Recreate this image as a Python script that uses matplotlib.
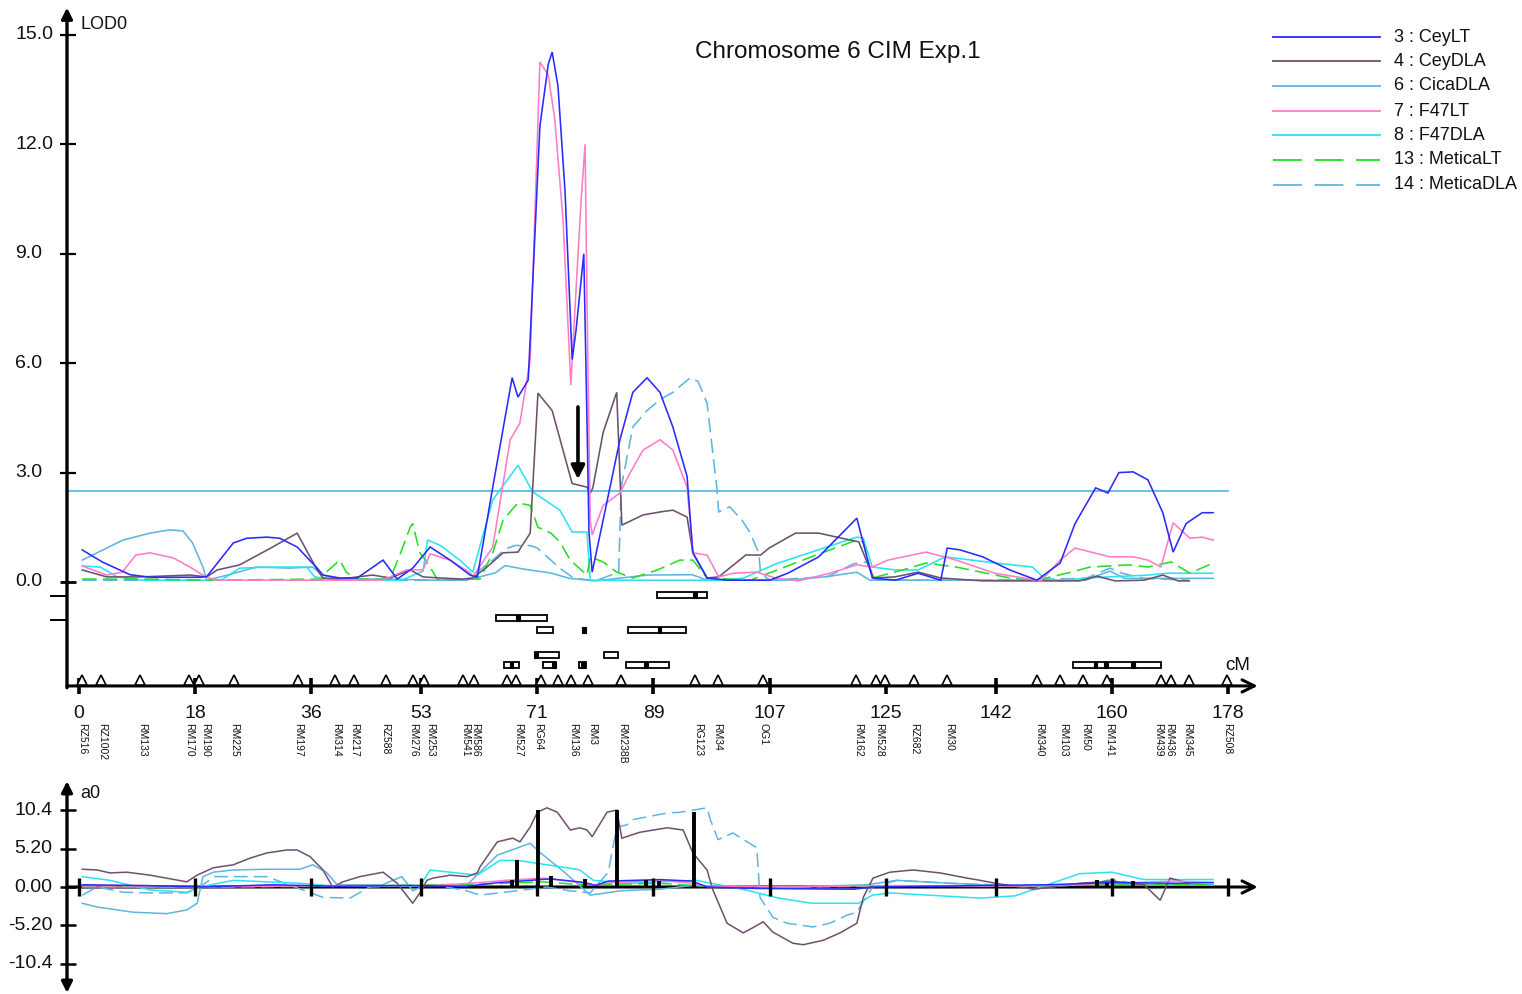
import matplotlib
matplotlib.use('Agg')
import matplotlib.pyplot as plt
from matplotlib.lines import Line2D

plt.rcParams['font.family'] = ['Liberation Sans', 'DejaVu Sans']

# ---------------- DATA ----------------
series_names = ["3 : CeyLT", "4 : CeyDLA", "6 : CicaDLA", "7 : F47LT",
                "8 : F47DLA", "13 : MeticaLT", "14 : MeticaDLA"]
series_colors = ["#2a2aff", "#6e506e", "#5cb6e0", "#ff7cc8",
                 "#28e4f0", "#22e022", "#5cb6e0"]
series_dashed = [False, False, False, False, False, True, True]

# LOD profiles (cM, LOD)
lod_ceylt = [(0.5,0.88),(3.6,0.55),(7.9,0.20),(11.0,0.13),(14.6,0.13),(18.7,0.13),(19.8,0.15),
             (23.9,1.07),(26.0,1.20),(29.1,1.23),(31.1,1.20),(33.8,0.96),(36.9,0.38),(37.8,0.19),
             (40.4,0.11),(43.1,0.11),(47.1,0.60),(49.3,0.08),(51.7,0.38),(54.4,0.96),(57.5,0.60),
             (60.6,0.19),(61.7,0.13),(64.1,2.60),(67.1,5.60),(68.0,5.07),(69.6,5.54),(71.4,12.5),
             (72.7,14.2),(73.3,14.53),(74.2,13.6),(75.3,10.7),(76.4,6.1),(77.0,6.9),(78.2,9.0),
             (78.7,4.4),(79.0,1.4),(79.5,0.27),(81.2,1.70),(83.8,3.90),(85.8,5.20),(88.0,5.60),
             (90.0,5.20),(92.0,4.25),(94.2,2.90),(95.1,0.80),(97.3,0.11),(100.5,0.05),(107.0,0.05),
             (109.8,0.24),(114.6,0.69),(120.5,1.75),(122.9,0.11),(126.5,0.05),(130.0,0.24),
             (133.5,0.05),(134.5,0.93),(136.5,0.88),(140.0,0.69),(144.2,0.33),(148.4,0.05),
             (152.0,0.52),(154.3,1.60),(157.5,2.58),(159.4,2.44),(161.1,3.00),(163.3,3.02),
             (165.6,2.80),(167.9,1.90),(169.5,0.82),(171.5,1.60),(174.0,1.90),(175.7,1.90)]
lod_ceydla = [(0.5,0.33),(4.3,0.14),(9.5,0.14),(17.2,0.19),(19.8,0.14),(21.4,0.33),(24.9,0.47),
              (30.0,0.96),(33.8,1.34),(36.9,0.33),(37.8,0.11),(40.4,0.08),(45.5,0.19),(48.2,0.11),
              (51.3,0.33),(53.3,0.14),(55.9,0.11),(59.5,0.08),(61.0,0.11),(63.2,0.41),(65.7,0.80),
              (68.0,0.82),(69.9,1.34),(71.1,5.18),(73.3,4.70),(76.4,2.70),(78.7,2.60),(79.2,2.44),
              (79.6,2.58),(81.2,4.10),(83.3,5.20),(84.1,1.56),(87.4,1.84),(90.0,1.92),(92.0,1.97),
              (94.2,1.78),(95.1,0.80),(97.3,0.11),(99.1,0.14),(103.3,0.74),(105.6,0.74),(106.9,0.93),
              (111.0,1.34),(114.6,1.34),(118.2,1.20),(120.8,1.10),(123.1,0.11),(126.4,0.14),
              (130.0,0.27),(133.5,0.11),(140.0,0.03),(155.0,0.03),(157.7,0.16),(160.5,0.03),
              (165.0,0.05),(167.9,0.19),(170.3,0.03),(172.0,0.03)]
lod_cicadla = [(0.5,0.60),(2.8,0.80),(6.8,1.15),(11.0,1.34),(14.1,1.43),(16.1,1.40),(17.6,1.07),
               (19.2,0.41),(19.8,0.05),(23.0,0.19),(27.5,0.41),(32.6,0.38),(36.2,0.41),(37.8,0.19),
               (40.4,0.08),(48.0,0.08),(55.0,0.05),(60.0,0.05),(64.5,0.25),(66.0,0.45),(69.0,0.35),
               (73.0,0.25),(76.0,0.10),(80.0,0.03),(88.0,0.19),(95.0,0.20),(97.3,0.05),(110.0,0.05),
               (116.0,0.15),(120.5,0.27),(122.5,0.05),(140.0,0.05),(156.0,0.05),(159.7,0.30),
               (162.0,0.10),(170.0,0.10),(175.7,0.10)]
lod_f47lt = [(0.5,0.44),(4.3,0.19),(6.7,0.27),(8.8,0.74),(11.0,0.80),(14.6,0.66),(17.2,0.41),
             (19.2,0.19),(21.0,0.05),(30.0,0.05),(40.0,0.05),(47.0,0.05),(50.7,0.33),(53.3,0.33),
             (54.4,0.77),(57.5,0.60),(60.6,0.25),(61.0,0.14),(64.1,0.96),(66.8,3.90),(68.3,4.36),
             (69.9,6.10),(71.4,14.26),(72.7,13.9),(73.7,12.7),(75.0,9.9),(76.2,5.4),(76.9,7.7),
             (77.8,10.5),(78.4,12.0),(78.7,7.7),(79.2,1.7),(79.5,1.29),(81.2,2.10),(83.8,2.44),
             (85.4,3.00),(87.4,3.62),(90.0,3.90),(92.0,3.62),(94.2,2.60),(95.1,0.80),(97.3,0.74),
             (99.1,0.14),(101.4,0.24),(105.0,0.27),(107.9,0.11),(111.5,0.03),(116.3,0.24),
             (120.5,0.47),(122.9,0.41),(125.3,0.60),(131.2,0.82),(135.9,0.60),(141.9,0.24),
             (149.0,0.03),(152.0,0.60),(154.3,0.93),(156.8,0.82),(159.7,0.69),(163.3,0.69),
             (165.6,0.60),(167.6,0.41),(169.5,1.62),(172.1,1.20),(174.0,1.23),(175.7,1.15)]
lod_f47dla = [(0.5,0.44),(3.3,0.41),(5.9,0.14),(10.0,0.05),(22.0,0.05),(24.9,0.38),(30.0,0.41),
              (35.3,0.41),(36.5,0.14),(40.0,0.05),(50.0,0.05),(53.3,0.30),(54.0,1.15),(56.0,1.00),
              (59.0,0.60),(61.0,0.27),(64.1,2.25),(68.0,3.20),(70.3,2.47),(74.5,1.97),(76.4,1.37),
              (78.7,1.37),(79.2,0.05),(90.0,0.05),(100.0,0.05),(103.0,0.11),(108.0,0.50),
              (114.0,0.85),(120.5,1.23),(121.5,1.20),(122.9,0.41),(126.5,0.33),(130.0,0.33),
              (134.2,0.69),(142.0,0.52),(147.7,0.41),(149.5,0.11),(152.0,0.03),(156.0,0.11),
              (165.6,0.19),(168.6,0.24),(175.7,0.24)]
lod_meticalt = [(0.5,0.08),(10.0,0.08),(20.0,0.05),(37.8,0.08),(38.3,0.27),(40.4,0.60),(41.4,0.27),
                (43.0,0.08),(48.2,0.08),(49.7,0.74),(51.3,1.50),(51.7,1.60),(52.8,0.80),(53.9,0.55),
                (55.5,0.08),(62.1,0.08),(64.1,0.80),(65.7,1.70),(68.0,2.17),(69.9,2.10),(71.1,1.50),
                (73.1,1.34),(74.5,1.10),(76.1,0.60),(78.7,0.19),(79.2,0.69),(81.2,0.55),(83.3,0.27),
                (85.8,0.11),(89.6,0.33),(93.1,0.60),(95.1,0.60),(97.3,0.11),(104.0,0.05),(115.1,0.80),
                (120.5,1.15),(121.5,1.10),(122.9,0.11),(127.6,0.33),(131.2,0.52),(135.9,0.41),
                (144.2,0.11),(148.0,0.03),(153.7,0.27),(156.6,0.41),(162.6,0.47),(165.6,0.41),
                (169.2,0.55),(172.1,0.24),(175.7,0.52)]
lod_meticadla = [(0.5,0.05),(20.0,0.05),(40.0,0.05),(60.0,0.05),(64.1,0.60),(66.0,0.90),(67.5,1.00),
                 (69.9,1.00),(71.0,0.93),(74.5,0.38),(76.6,0.11),(80.0,0.03),(83.6,0.27),(84.0,2.60),
                 (85.8,4.25),(88.0,4.70),(90.0,5.00),(92.0,5.20),(94.7,5.60),(95.9,5.50),(97.3,4.90),
                 (98.8,2.60),(99.1,1.92),(100.8,2.06),(102.7,1.70),(103.9,1.37),(105.3,0.80),
                 (105.6,0.24),(107.0,0.05),(116.0,0.15),(120.0,0.50),(122.0,0.55),(123.5,0.05),
                 (140.0,0.05),(156.0,0.10),(159.7,0.38),(161.6,0.24),(165.0,0.10),(172.0,0.05)]
lod_profiles = [lod_ceylt, lod_ceydla, lod_cicadla, lod_f47lt, lod_f47dla, lod_meticalt, lod_meticadla]

# additive effect profiles (cM, a0)
a0_ceylt = [(0.5,0.3),(10,0.2),(18.7,0.0),(30,0.3),(40,0.1),(50,0.2),(60,0.1),(65,0.6),(70,0.9),
            (73,1.1),(78.4,0.6),(80,0.2),(82,0.8),(90,1.0),(95,0.8),(97.3,0.0),(105,-0.2),(120,-0.3),
            (123,0.0),(140,0.2),(150,0.3),(160,0.6),(170,0.5),(175.7,0.6)]
a0_ceydla = [(0.5,2.4),(2.8,2.3),(4.8,1.9),(7.4,2.0),(11.0,1.6),(16.7,0.7),(18.3,1.6),(20.8,2.6),
             (23.9,3.0),(26.5,3.9),(29.1,4.6),(32.2,5.0),(33.8,5.0),(35.8,4.1),(37.8,2.3),(39.3,0.0),
             (40.9,0.7),(43.5,1.4),(47.1,2.0),(49.3,0.5),(51.7,-2.2),(52.8,-0.8),(53.9,0.9),(54.8,1.2),
             (57.5,1.6),(60.1,1.4),(61.7,1.9),(62.1,2.7),(64.8,6.1),(67.2,6.6),(68.3,6.1),(69.9,8.1),
             (71.0,10.1),(72.5,10.7),(74.1,10.1),(76.1,7.7),(77.6,8.0),(78.7,7.7),(79.5,6.8),
             (81.8,10.1),(83.3,10.4),(84.1,6.6),(86.9,7.4),(91.1,8.0),(93.6,7.7),(95.1,4.6),(97.3,2.3),
             (98.2,-0.4),(100.4,-4.9),(102.9,-6.2),(104.4,-5.5),(106.0,-4.7),(107.5,-6.1),(110.6,-7.6),
             (112.2,-7.8),(115.3,-7.2),(117.9,-6.2),(120.5,-4.9),(121.5,-1.4),(123.0,1.2),(125.6,2.0),
             (129.2,2.3),(133.4,1.9),(137.6,1.2),(139.6,0.9),(142,0.5),(148,-0.3),(155,0.5),(160,0.8),
             (165,0.3),(167.5,-1.8),(169,1.2),(172,0.5)]
a0_cicadla = [(0.5,-2.2),(2.8,-2.7),(8.3,-3.4),(13.6,-3.6),(16.7,-3.1),(18.3,-2.2),(19.2,1.4),
              (20.8,2.0),(23.9,2.3),(29.1,2.4),(34.2,2.4),(36.2,3.0),(38.3,2.0),(40.0,0.3),(47,0.3),
              (50,1.4),(51.7,-0.5),(53.9,0.3),(60,0.2),(64.8,4.3),(69.9,5.9),(71.5,4.6),(74.8,2.3),
              (79.2,-1.1),(84,-0.5),(90,-0.3),(95,0.2),(110,0.0),(122,0.3),(126.7,0.9),(135,0.5),
              (142,0.2),(150,0.0),(158,0.5),(165,0.3),(175.7,0.3)]
a0_f47lt = [(0.5,0.0),(20,0.0),(40,0.2),(55,0.2),(62,0.6),(66,0.9),(72,1.2),(76,0.8),(79.5,0.3),
            (83,0.6),(90,0.9),(95,0.5),(97,0.1),(110,0.0),(125,0.2),(140,0.1),(150,0.2),(160,0.5),
            (170,0.8),(175.7,0.6)]
a0_f47dla = [(0.5,1.4),(4.8,0.9),(11.0,-0.4),(16.7,-0.7),(18.7,0.0),(23.9,0.9),(34.2,0.5),(40,0.1),
             (52.8,0.1),(54.4,2.3),(61.7,1.6),(65.2,3.6),(67.9,3.6),(72.5,3.0),(75.6,2.6),(77.6,2.3),
             (79.7,0.9),(85,0.5),(95.6,0.9),(103.3,-0.4),(108.4,-1.5),(113.5,-2.2),(120.8,-2.2),
             (122.9,-1.1),(125.6,-0.8),(139.6,-1.5),(145,-1.2),(150,0.3),(155,1.8),(160,2.0),
             (165,1.0),(175.7,1.0)]
a0_meticalt = [(0.5,0.1),(20,0.0),(40,0.1),(55,0.3),(62,0.4),(66,0.5),(72,0.7),(78,0.3),(85,0.4),
               (90,0.5),(97,0.1),(110,0.0),(125,0.1),(150,0.2),(160,0.4),(170,0.3),(175.7,0.3)]
a0_meticadla = [(0.5,-1.1),(2.8,0.0),(6.8,-0.7),(11.0,-0.8),(16.7,-0.8),(18.7,0.0),(21,1.4),(29.1,1.4),
                (37.8,-1.4),(42.0,-1.5),(45,0.0),(55,0.3),(60,-0.5),(62.1,-1.1),(66.0,-0.7),(72.5,0.0),
                (76,-0.5),(79.2,-0.8),(82.0,2.0),(83.3,8.1),(84.9,8.4),(85.8,9.1),(91.1,10.0),(93.1,10.1),
                (97.3,10.7),(97.8,9.1),(99.0,6.4),(101.3,7.3),(105.0,5.3),(105.2,2.7),(105.5,-1.4),
                (107.5,-4.1),(109.7,-4.9),(113.7,-5.4),(116.3,-4.9),(119.0,-3.8),(120.5,-3.4),
                (122.1,-1.1),(123.0,0.0),(126.7,0.9),(135,0.5),(145,0.2),(155,0.3),(160,1.0),(165,0.3),
                (175.7,0.3)]
a0_profiles = [a0_ceylt, a0_ceydla, a0_cicadla, a0_f47lt, a0_f47dla, a0_meticalt, a0_meticadla]

# QTL peak effect bars (cM, a0)
effect_cM = [67.1, 67.9, 71.1, 73.1, 78.4, 83.3, 87.8, 89.9, 95.3, 157.7, 159.3, 163.3]
effect_val = [1.0, 3.6, 10.4, 1.5, 1.1, 10.4, 1.0, 0.8, 10.1, 0.9, 0.6, 0.8]

threshold = 2.5

# support intervals: start, end, row level (LOD units below 0)
iv_start = [89.5, 64.6, 70.9, 85.1, 70.6, 81.3, 65.8, 71.9, 77.5, 84.7, 154.0]
iv_end = [97.3, 72.5, 73.4, 94.0, 74.4, 83.5, 68.2, 73.9, 78.5, 91.4, 167.6]
iv_row = [-0.36, -0.99, -1.32, -1.32, -2.00, -2.00, -2.28, -2.28, -2.28, -2.28, -2.28]
mark_cM = [95.4, 68.0, 78.2, 89.9, 70.8, 67.0, 73.6, 78.1, 87.8, 157.5, 159.1, 163.3]
mark_row = [-0.36, -0.99, -1.32, -1.32, -2.00, -2.28, -2.28, -2.28, -2.28, -2.28, -2.28, -2.28]

# molecular markers (triangles)
marker_cM = [0.5, 3.4, 9.4, 17.0, 18.6, 24.0, 33.9, 39.7, 42.6, 47.6, 51.7, 53.4, 59.5, 61.2,
             66.3, 67.7, 71.6, 74.2, 76.2, 78.9, 84.0, 95.4, 99.0, 106.0, 120.4, 123.5, 124.9,
             129.4, 134.5, 148.4, 152.0, 155.5, 159.3, 167.6, 169.2, 172.0, 177.8]
label_names = ["RZ516", "RZ1002", "RM133", "RM170", "RM190", "RM225", "RM197", "RM314", "RM217",
               "RZ588", "RM276", "RM253", "RM541", "RM586", "RM527", "RG64", "RM136", "RM3",
               "RM238B", "RG123", "RM34", "OG1", "RM162", "RM528", "RZ682", "RM30", "RM340",
               "RM103", "RM50", "RM141", "RM439", "RM436", "RM345", "RZ508"]
label_cM = [0.5, 3.6, 9.8, 17.0, 19.5, 24.0, 33.9, 39.8, 42.6, 47.4, 51.7, 54.4, 59.8, 61.3,
            68.0, 71.1, 76.6, 79.5, 84.1, 95.9, 98.9, 106.0, 120.7, 123.9, 129.4, 134.8, 148.7,
            152.5, 155.9, 159.6, 167.2, 168.9, 171.7, 177.8]

major_ticks = [0, 18, 36, 53, 71, 89, 107, 125, 142, 160, 178]
lod_ticks = [0.0, 3.0, 6.0, 9.0, 12.0, 15.0]
a0_ticks = [10.4, 5.2, 0.0, -5.2, -10.4]
a0_tick_labels = ["10.4", "5.20", "0.00", "-5.20", "-10.4"]

# ---------------- LAYOUT ----------------
W, H, DPI = 1522, 994, 100
fig = plt.figure(figsize=(W / DPI, H / DPI), dpi=DPI)
fig.patch.set_facecolor('white')

X0, PXCM = 79.0, 6.455          # pixel of 0 cM and pixels per cM
XL = (-12.2, 185.0)
left = (X0 + PXCM * XL[0]) / W
width = PXCM * (XL[1] - XL[0]) / W

# top: y_px = 582 - 36.47*LOD
Y0T, PXL = 582.0, 36.47
YLT = (-3.2, 15.9)
bt_px, tp_px = Y0T - PXL * YLT[0], Y0T - PXL * YLT[1]
ax1 = fig.add_axes([left, 1 - bt_px / H, width, (bt_px - tp_px) / H])
# bottom: y_px = 887 - 7.4*a0
Y0B, PXA = 887.0, 7.4
YLB = (-14.46, 15.0)
bb_px, tb_px = Y0B - PXA * YLB[0], Y0B - PXA * YLB[1]
ax2 = fig.add_axes([left, 1 - bb_px / H, width, (bb_px - tb_px) / H])

for ax, yl in ((ax1, YLT), (ax2, YLB)):
    ax.set_xlim(*XL)
    ax.set_ylim(*yl)
    ax.set_axis_off()

YAX = -1.86      # cM of y-axis line
XAX_T = -2.85    # LOD of the top x-axis line
XEND = 182.6

def draw_series(ax, profiles, lw):
    order = [2, 6, 4, 5, 1, 3, 0]
    for i in order:
        xs, ys = zip(*profiles[i])
        kw = dict(color=series_colors[i], lw=lw, solid_joinstyle='miter')
        if series_dashed[i]:
            ax.plot(xs, ys, dashes=(9, 4), **kw)
        else:
            ax.plot(xs, ys, **kw)

# ---- top panel ----
ax1.plot([YAX, 178], [threshold, threshold], color='#4cb8e0', lw=1.2, zorder=1)
draw_series(ax1, lod_profiles, 1.15)

# axes
ax1.annotate('', xy=(YAX, 15.75), xytext=(YAX, XAX_T - 0.05),
             arrowprops=dict(arrowstyle='-|>', lw=2.4, color='k', mutation_scale=16,
                             shrinkA=0, shrinkB=0), annotation_clip=False)
ax1.annotate('', xy=(XEND, XAX_T), xytext=(YAX, XAX_T),
             arrowprops=dict(arrowstyle='->', lw=2.2, color='k', mutation_scale=22,
                             shrinkA=0, shrinkB=0), annotation_clip=False)
for v in lod_ticks:
    ax1.plot([-2.94, -0.46], [v, v], color='k', lw=2.0 if v == 0 else 1.6, solid_capstyle='butt')
    ax1.text(-9.9, v, f"{v:.1f}", ha='left', va='center', fontsize=14, color='#111111')
for v in (-0.38, -1.04):
    ax1.plot([-4.5, YAX], [v, v], color='k', lw=1.4, solid_capstyle='butt')
for t in major_ticks:
    ax1.plot([t, t], [-2.63, -3.07], color='k', lw=2.6, solid_capstyle='butt', clip_on=False)
    ax1.text(t, -3.6, str(t), ha='center', va='center', fontsize=14, color='#111111',
             clip_on=False)

# markers
ax1.plot(marker_cM, [XAX_T + 0.15] * len(marker_cM), linestyle='none', marker='^',
         markersize=7.5, markerfacecolor='white', markeredgecolor='k', markeredgewidth=1.2,
         clip_on=False, zorder=5)
for name, c in zip(label_names, label_cM):
    ax1.text(c, -3.86, name, rotation=270, ha='center', va='top', fontsize=7.5, color='#111111',
             clip_on=False)

# support intervals
ax1.barh(iv_row, [e - s for s, e in zip(iv_start, iv_end)], left=iv_start, height=0.16,
         color='white', edgecolor='k', linewidth=1.3, zorder=4)
ax1.barh(mark_row, [0.55] * len(mark_cM), left=[m - 0.275 for m in mark_cM], height=0.16,
         color='k', edgecolor='k', linewidth=0.8, zorder=5)

# arrow marking the QTL
ax1.annotate('', xy=(77.3, 2.82), xytext=(77.3, 4.8),
             arrowprops=dict(arrowstyle='-|>', lw=2.6, color='k', mutation_scale=20,
                             shrinkA=0, shrinkB=0))

ax1.text(117.6, 14.53, "Chromosome 6 CIM Exp.1", ha='center', va='center', fontsize=17.5,
         color='#111111')
ax1.text(0.2, 15.3, "LOD0", ha='left', va='center', fontsize=13, color='#111111', clip_on=False)
ax1.text(177.6, -2.30, "cM", ha='left', va='center', fontsize=13.5, color='#111111', clip_on=False)

# ---- bottom panel ----
draw_series(ax2, a0_profiles, 1.1)
ax2.annotate('', xy=(YAX, 14.3), xytext=(YAX, -14.3),
             arrowprops=dict(arrowstyle='<|-|>', lw=2.4, color='k', mutation_scale=16,
                             shrinkA=0, shrinkB=0), annotation_clip=False)
ax2.annotate('', xy=(XEND, 0), xytext=(YAX, 0),
             arrowprops=dict(arrowstyle='->', lw=2.2, color='k', mutation_scale=22,
                             shrinkA=0, shrinkB=0), annotation_clip=False, zorder=1)
for v, lab in zip(a0_ticks, a0_tick_labels):
    ax2.plot([-2.94, -0.46], [v, v], color='k', lw=1.8, solid_capstyle='butt')
    ax2.text(-4.1, v, lab, ha='right', va='center', fontsize=14, color='#111111')
for t in major_ticks:
    ax2.plot([t, t], [1.2, -1.2], color='k', lw=2.4, solid_capstyle='butt', zorder=6)
ax2.vlines(effect_cM, 0, effect_val, color='k', lw=2.8, zorder=6)
ax2.text(0.2, 12.7, "a0", ha='left', va='center', fontsize=13, color='#111111', clip_on=False)

# ---- legend ----
leg_y = [37, 61, 86, 111, 135, 160, 185]
for i, yp in enumerate(leg_y):
    kw = dict(color=series_colors[i], lw=1.3, transform=fig.transFigure)
    if series_dashed[i]:
        ln = Line2D([1273 / W, 1380 / W], [1 - yp / H] * 2, dashes=(16, 7), **kw)
    else:
        ln = Line2D([1273 / W, 1380 / W], [1 - yp / H] * 2, **kw)
    fig.add_artist(ln)
    fig.text(1394 / W, 1 - yp / H, series_names[i], ha='left', va='center', fontsize=13,
             color='#111111')

fig.savefig('out.png', dpi=DPI, facecolor='white')
